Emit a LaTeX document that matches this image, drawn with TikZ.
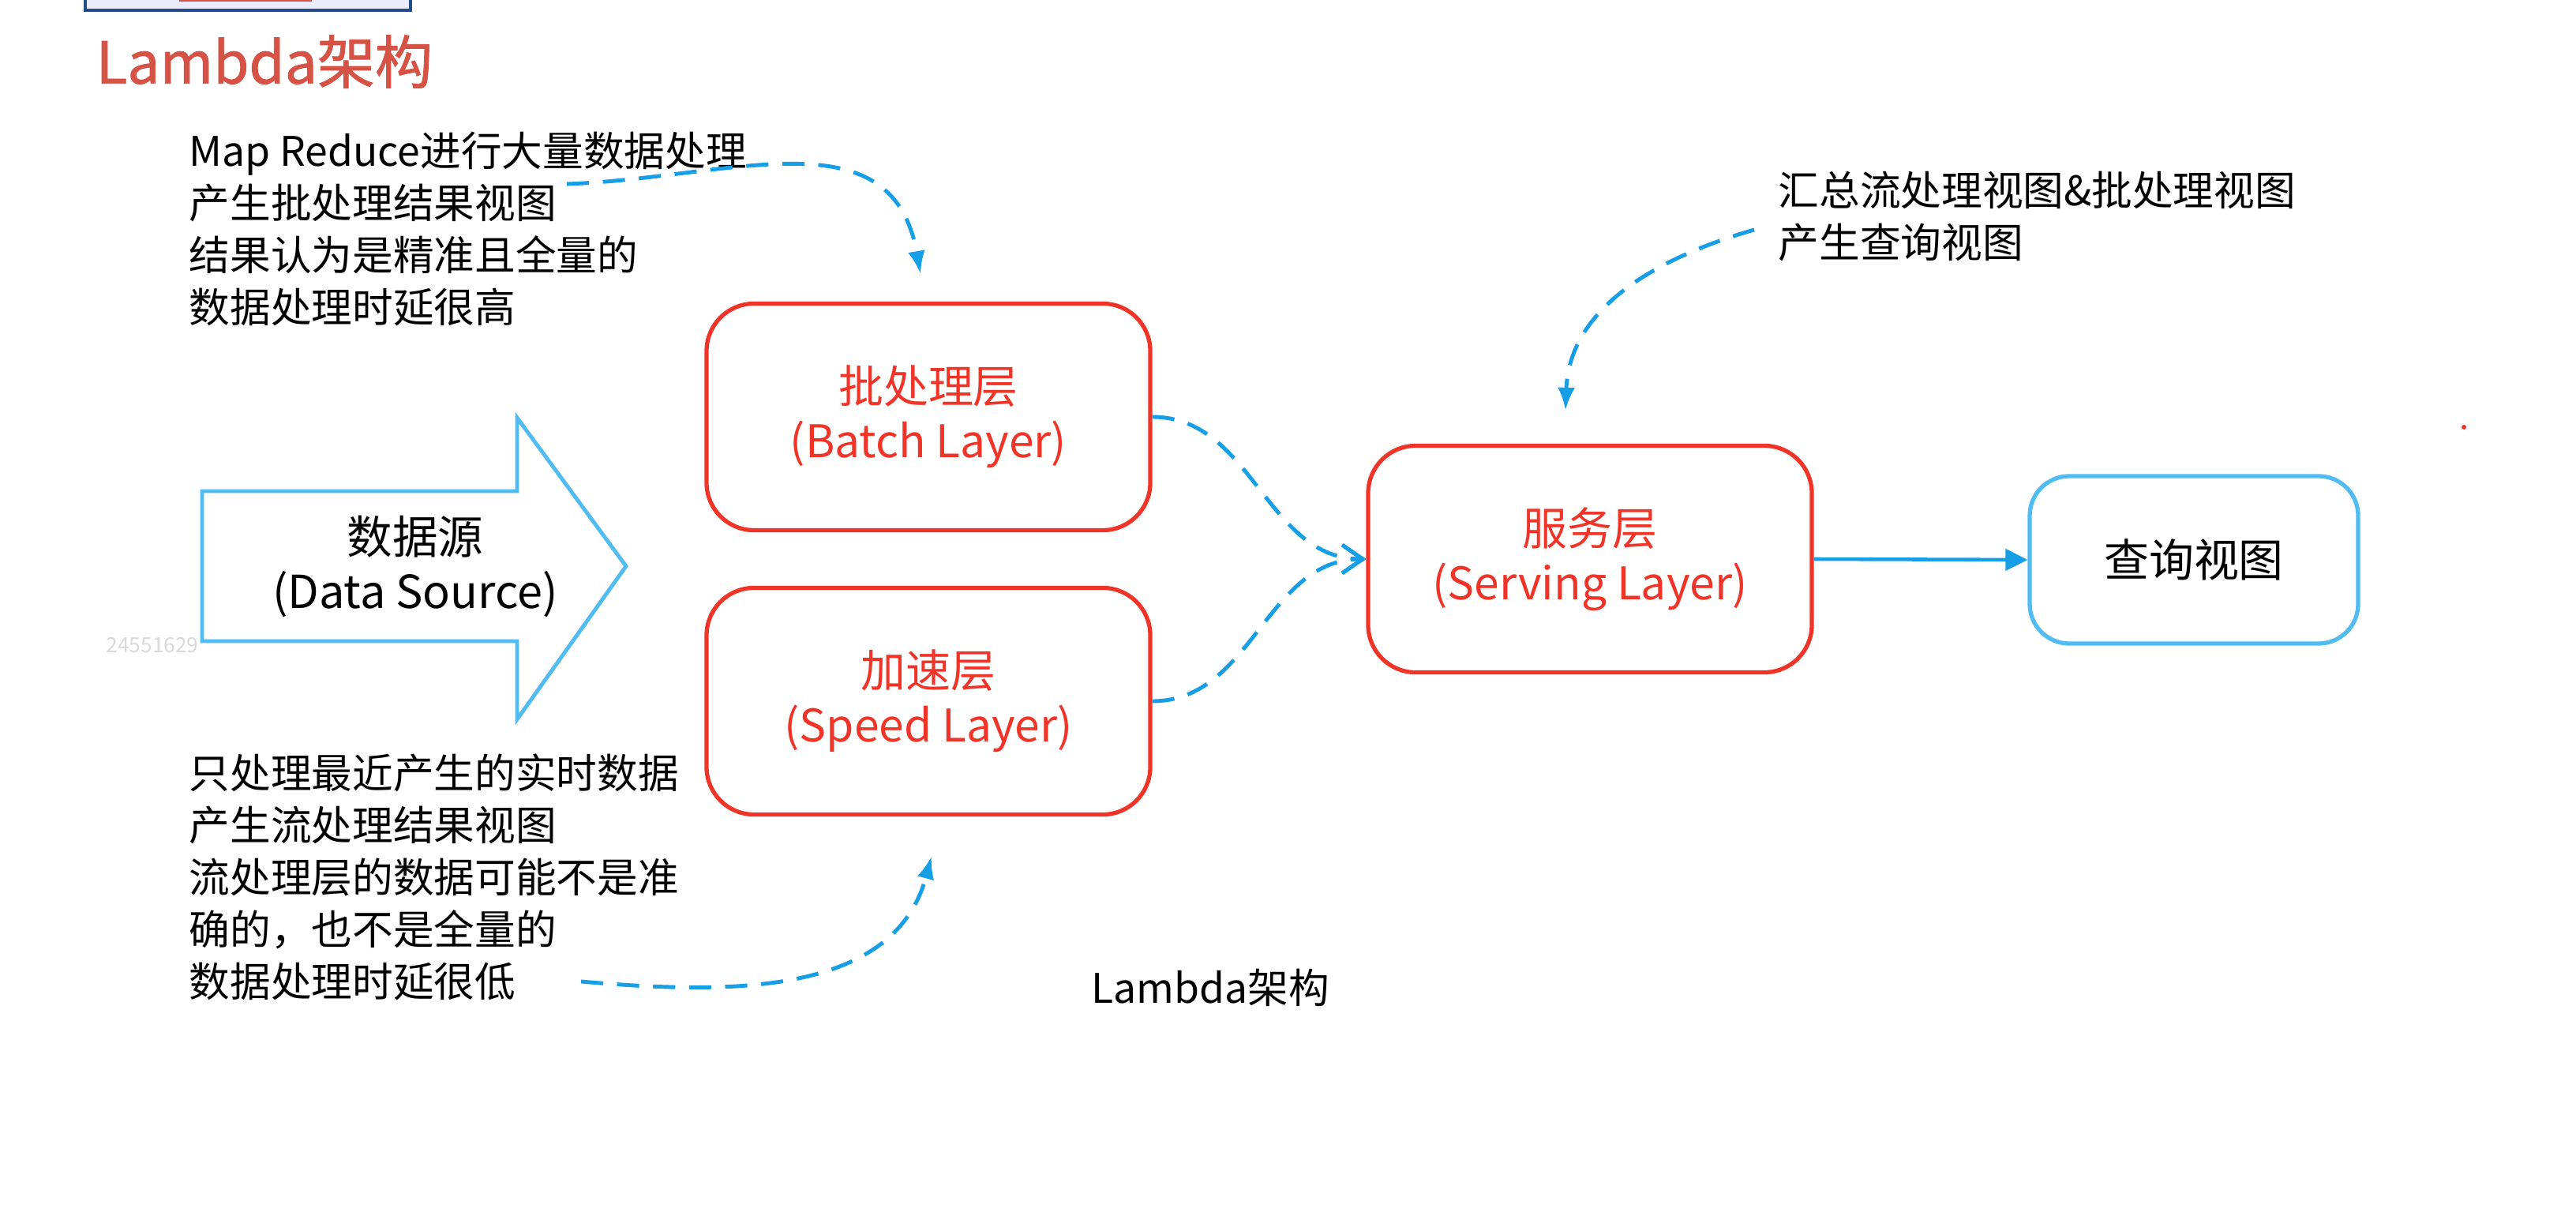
\documentclass[tikz,border=0pt]{standalone}
\usepackage{fontspec}
\setmainfont{Noto Sans CJK SC}
\newfontfamily\titlefont{Noto Sans CJK SC}[BoldFont={Noto Sans CJK SC},BoldFeatures={FakeBold=1.2}]
\usepackage{tikz}
\usetikzlibrary{arrows.meta,positioning,calc}
\definecolor{layerred}{RGB}{240,52,40}
\definecolor{titlered}{RGB}{214,82,68}
\definecolor{linkblue}{RGB}{22,158,230}
\definecolor{viewblue}{RGB}{80,188,242}
\definecolor{navyedge}{RGB}{35,75,135}
\tikzset{
  layerbox/.style={draw=layerred,line width=1.5pt,rounded corners=0.6cm,align=center,
    minimum width=5.62cm,minimum height=2.87cm,text=layerred,font=\fontsize{16.2pt}{19.6pt}\selectfont},
  viewbox/.style={draw=viewblue,line width=1.5pt,rounded corners=0.5cm,align=center,
    minimum width=4.16cm,minimum height=2.12cm,font=\fontsize{16.2pt}{19.6pt}\selectfont},
  notetext/.style={align=left,inner sep=0pt,font=\fontsize{14.7pt}{18.8pt}\selectfont},
  dashlink/.style={draw=linkblue,line width=1.4pt,dash pattern=on 8pt off 5pt,
    -{Latex[length=2.9mm,width=2.2mm]}},
  mergelink/.style={draw=linkblue,line width=1.4pt,dash pattern=on 8pt off 5pt,
    -{Straight Barb[length=2.6mm,width=3.6mm]}},
  solidlink/.style={draw=linkblue,line width=1.3pt,-{Triangle[length=2.8mm,width=2.7mm]}}
}

\begin{document}
\begin{tikzpicture}[x=1cm,y=1cm]
  \useasboundingbox (0,0) rectangle (32.63,-15.39);
  % cut-off box at the top edge
  \begin{scope}
    \clip (0,0) rectangle (32.63,-15.39);
    \draw[navyedge,line width=1.3pt,fill=blue!8] (1.08,0.5) rectangle (5.20,-0.13);
    \fill[titlered] (2.27,0.3) rectangle (3.95,-0.02);
  \end{scope}
  \node[anchor=west,inner sep=0pt,text=titlered,
    font=\titlefont\bfseries\fontsize{20.8pt}{26pt}\selectfont] (title) at (1.21,-0.78) {Lambda架构};

  % data source arrow
  \draw[viewblue,line width=1.4pt] (2.56,-6.22) -- (6.55,-6.22) -- (6.55,-5.29) -- (7.93,-7.17)
    -- (6.55,-9.11) -- (6.55,-8.12) -- (2.56,-8.12) -- cycle;
  \node[align=center,font=\fontsize{16.4pt}{19.6pt}\selectfont] (source) at (5.26,-7.17) {数据源\\(Data Source)};
  \node[text=black!15,inner sep=0pt,font=\fontsize{7.5pt}{9pt}\selectfont] (mark) at (1.93,-8.17) {24551629};

  \node[layerbox] (batch) at (11.76,-5.28) {批处理层\\(Batch Layer)};
  \node[layerbox] (speed) at (11.76,-8.88) {加速层\\(Speed Layer)};
  \node[layerbox] (serving) at (20.14,-7.08) {服务层\\(Serving Layer)};
  \node[viewbox] (query) at (27.79,-7.09) {查询视图};

  \node[notetext,anchor=west] (batchnote) at (2.39,-2.90)
    {Map Reduce进行大量数据处理\\产生批处理结果视图\\结果认为是精准且全量的\\数据处理时延很高};
  \node[notetext,anchor=west] (speednote) at (2.39,-11.11)
    {只处理最近产生的实时数据\\产生流处理结果视图\\流处理层的数据可能不是准\\确的，也不是全量的\\数据处理时延很低};
  \node[notetext,anchor=west] (servingnote) at (22.52,-2.745) {汇总流处理视图\&批处理视图\\产生查询视图};
  \node[notetext] (caption) at (15.33,-12.51) {Lambda架构};

  \fill[layerred] (31.21,-5.41) circle (0.03);

  \coordinate (batchnote-out) at (7.18,-2.33);
  \coordinate (speednote-out) at (7.36,-12.43);
  \coordinate (servingnote-out) at (22.22,-2.91);

  \draw[dashlink] (batchnote-out) to[out=2,in=100,looseness=1.15] ([xshift=-0.1cm,yshift=0.35cm]batch.north);
  \draw[dashlink] (speednote-out) to[out=-5,in=255] ([xshift=0.04cm,yshift=-0.5cm]speed.south);
  \draw[dashlink] (servingnote-out) to[out=196,in=88] ([xshift=-0.31cm,yshift=0.42cm]serving.north);
  \draw[mergelink] (batch.east) to[out=0,in=180] (serving.west);
  \draw[mergelink] (speed.east) to[out=0,in=180] (serving.west);
  \draw[solidlink] (serving.east) -- (query.west);
\end{tikzpicture}
\end{document}
